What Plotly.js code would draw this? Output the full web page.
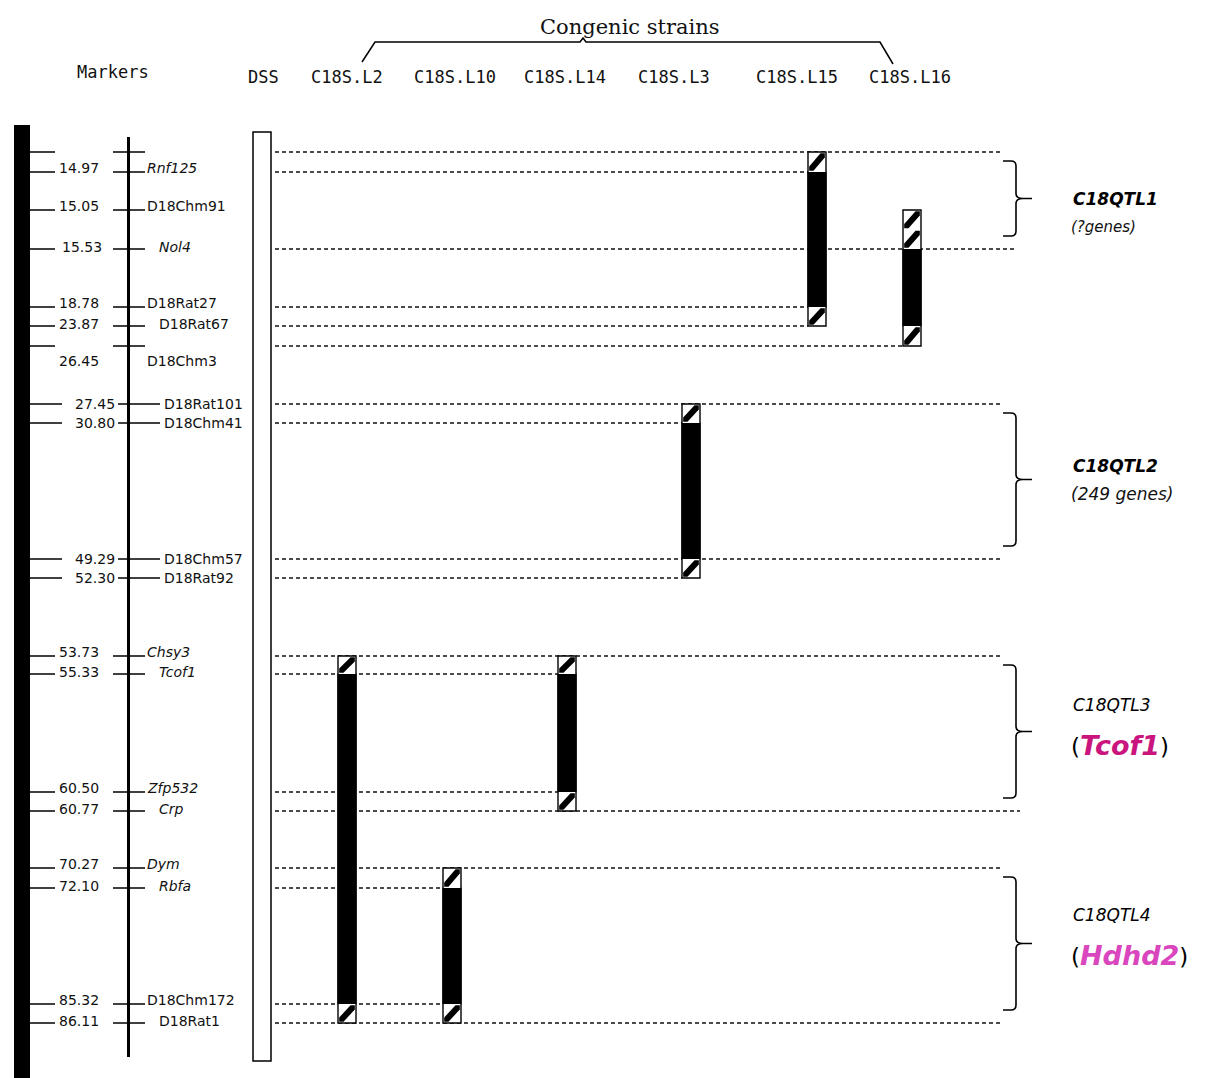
<!DOCTYPE html>
<html>
<head>
<meta charset="utf-8">
<script src="https://cdn.plot.ly/plotly-3.0.1.min.js"></script>
<style>
  html, body { margin: 0; padding: 0; background: #ffffff; }
  #chart { width: 1212px; height: 1078px; }
</style>
</head>
<body>
<div id="chart"></div>
<script>
// ---- Chromosome 18 markers (cM) ----
const markerNames = ['', 'Rnf125', 'D18Chm91', 'Nol4', 'D18Rat27', 'D18Rat67', 'D18Chm3',
  'D18Rat101', 'D18Chm41', 'D18Chm57', 'D18Rat92', 'Chsy3', 'Tcof1', 'Zfp532', 'Crp',
  'Dym', 'Rbfa', 'D18Chm172', 'D18Rat1'];
const markerCM = ['', '14.97', '15.05', '15.53', '18.78', '23.87', '26.45', '27.45', '30.80',
  '49.29', '52.30', '53.73', '55.33', '60.50', '60.77', '70.27', '72.10', '85.32', '86.11'];
const isGene = [false, true, false, true, false, false, false, false, false, false, false,
  true, true, true, true, true, true, false, false];
// row of each marker on the schematic map scale
const markerRow = [152, 172, 210, 249, 307, 326, 346, 404, 423, 559, 578, 656, 674, 792, 811,
  868, 888, 1004, 1023];

// ---- Strains ----
const strainLabels = ['DSS', 'C18S.L2', 'C18S.L10', 'C18S.L14', 'C18S.L3', 'C18S.L15', 'C18S.L16'];
// congenic segments given as marker indices
const congenic   = ['C18S.L2', 'C18S.L10', 'C18S.L14', 'C18S.L3', 'C18S.L15', 'C18S.L16'];
const flankStart = [11, 15, 11, 7, 0, 2];
const donorStart = [12, 16, 12, 8, 1, 3];
const donorEnd   = [17, 17, 13, 9, 4, 5];
const flankEnd   = [18, 18, 14, 10, 5, 6];

// ---- QTL intervals ----
const qtlNames = ['C18QTL1', 'C18QTL2', 'C18QTL3', 'C18QTL4'];
const qtlGenes = ['?genes', '249 genes', 'Tcof1', 'Hdhd2'];
const qtlFrom  = [0, 7, 11, 15];
const qtlTo    = [3, 9, 14, 18];

// ---- drawing layout ----
const headerX = [263, 347, 455, 565, 674, 797, 910];
const barX = [347, 452, 567, 691, 817, 912];
const BAR_HALF = 9;
const labelType = ['T', 'A', 'A', 'B', 'A', 'B', 'D', 'C', 'C', 'C', 'C', 'A', 'B', 'A', 'B', 'A', 'B', 'A', 'B'];
// right end of each dashed guide line (null = no guide)
const guideEnd = [1003, 808, null, 1015, 808, 808, 903, 1003, 682, 1003, 682, 1003, 558, 558, 1020,
  1003, 443, 443, 1003];
const qtlTitleY = [199, 466, 705, 915];
const qtlSubY = [227, 494, 745, 955];
const geneColor = ['#000000', '#000000', '#c9157d', '#d946bd'];

const shapes = [];
const ann = [];
const F = 'DejaVu Sans, Arial, sans-serif';
const MONO = 'DejaVu Sans Mono, monospace';

function rect(x0, y0, x1, y1, fill, lw) {
  shapes.push({ type: 'rect', xref: 'x', yref: 'y', x0, y0, x1, y1, fillcolor: fill,
    line: { width: lw, color: '#000' }, layer: 'above' });
}
function path(d, fill, lw) {
  shapes.push({ type: 'path', xref: 'x', yref: 'y', path: d, fillcolor: fill || 'rgba(0,0,0,0)',
    line: { width: lw, color: '#000' }, layer: 'above' });
}

// chromosome bar and marker axis
rect(14, 125, 30, 1078, '#000', 0);
rect(127, 137, 130, 1057, '#000', 0);
// DSS column
rect(253, 132, 271, 1061, '#ffffff', 1.5);

// marker ticks
const tx = [], ty = [];
markerRow.forEach((r, i) => {
  const t = labelType[i];
  if (t === 'C') {
    tx.push(30, 62, null, 118, 160, null);
  } else {
    tx.push(30, 55, null, 113, 145, null);
  }
  ty.push(r, r, null, r, r, null);
});

// dashed guides
const gx = [], gy = [];
markerRow.forEach((r, i) => {
  if (guideEnd[i] !== null) { gx.push(275, guideEnd[i], null); gy.push(r, r, null); }
});

// marker labels
markerRow.forEach((r, i) => {
  const t = labelType[i];
  if (t === 'T') return;
  let nx = 57, nAnchor = 'left', mx = 145, ys = 4, y = r;
  if (t === 'B') { nx = (i === 3) ? 60 : 57; mx = 157; ys = 2; }
  if (t === 'C') { nx = 95; nAnchor = 'center'; mx = 162; ys = 0; }
  if (t === 'D') { nx = 57; mx = 145; ys = 0; y = r + 15; }
  ann.push({ x: nx, y, xref: 'x', yref: 'y', text: markerCM[i], showarrow: false,
    xanchor: nAnchor, yanchor: 'middle', yshift: ys, font: { family: F, size: 14, color: '#111' } });
  ann.push({ x: mx, y, xref: 'x', yref: 'y', text: isGene[i] ? '<i>' + markerNames[i] + '</i>' : markerNames[i],
    showarrow: false, xanchor: 'left', yanchor: 'middle', yshift: ys, font: { family: F, size: 14, color: '#111' } });
});

// congenic segments: hatched flanks, solid donor region
function stripe(x0, y0, x1, y1) {
  const d = 5.5, e = 1.2;
  path(`M ${x0 + e},${y1 - d} L ${x1 - d},${y0 + e} L ${x1 - e},${y0 + e} L ${x1 - e},${y0 + d} ` +
       `L ${x0 + d},${y1 - e} L ${x0 + e},${y1 - e} Z`, '#000', 0);
}
function hatch(x0, y0, x1, y1) {
  rect(x0, y0, x1, y1, '#ffffff', 0);
  const n = Math.max(1, Math.round((y1 - y0) / 19.5));
  const h = (y1 - y0) / n;
  for (let k = 0; k < n; k++) stripe(x0, y0 + k * h, x1, y0 + (k + 1) * h);
}
congenic.forEach((s, i) => {
  const x0 = barX[i] - BAR_HALF, x1 = barX[i] + BAR_HALF;
  rect(x0, markerRow[donorStart[i]], x1, markerRow[donorEnd[i]], '#000', 1.2);
  hatch(x0, markerRow[flankStart[i]], x1, markerRow[donorStart[i]]);
  hatch(x0, markerRow[donorEnd[i]], x1, markerRow[flankEnd[i]]);
  rect(x0, markerRow[flankStart[i]], x1, markerRow[flankEnd[i]], 'rgba(0,0,0,0)', 1.4);
});

// QTL braces and names
qtlNames.forEach((q, i) => {
  const top = markerRow[qtlFrom[i]] + 9;
  const bot = markerRow[qtlTo[i]] - 13;
  const mid = (top + bot) / 2;
  const bx = 1016;
  path(`M 1003,${top} L 1011,${top} Q ${bx},${top} ${bx},${top + 5} L ${bx},${mid - 5} Q ${bx},${mid} ${bx + 7},${mid} L 1032,${mid} ` +
       `M ${bx + 7},${mid} Q ${bx},${mid} ${bx},${mid + 5} L ${bx},${bot - 5} Q ${bx},${bot} 1011,${bot} L 1003,${bot}`, null, 1.6);
  const bold = i < 2;
  ann.push({ x: 1071, y: qtlTitleY[i], xref: 'x', yref: 'y', showarrow: false, xanchor: 'left', yanchor: 'middle',
    text: bold ? '<b><i>' + q + '</i></b>' : '<i>' + q + '</i>', font: { family: F, size: 17, color: '#000' } });
  let sub;
  if (i < 2) {
    sub = '<i>(' + qtlGenes[i] + ')</i>';
    ann.push({ x: 1069, y: qtlSubY[i], xref: 'x', yref: 'y', showarrow: false, xanchor: 'left', yanchor: 'middle',
      text: sub, font: { family: F, size: i === 0 ? 15 : 17, color: '#111' } });
  } else {
    sub = '(<span style="font-size:27px;color:' + geneColor[i] + ';font-weight:bold;font-style:italic">' + qtlGenes[i] + '</span>)';
    ann.push({ x: 1069, y: qtlSubY[i], xref: 'x', yref: 'y', showarrow: false, xanchor: 'left', yanchor: 'middle',
      text: sub, font: { family: F, size: 23, color: '#000' } });
  }
});

// header
ann.push({ x: 113, y: 72, xref: 'x', yref: 'y', text: 'Markers', showarrow: false, xanchor: 'center', yanchor: 'middle',
  font: { family: MONO, size: 17, color: '#111' } });
strainLabels.forEach((s, i) => {
  ann.push({ x: headerX[i], y: 77, xref: 'x', yref: 'y', text: s, showarrow: false, xanchor: 'center', yanchor: 'middle',
    font: { family: MONO, size: 17, color: '#111' } });
});
ann.push({ x: 630, y: 27, xref: 'x', yref: 'y', text: 'Congenic strains', showarrow: false, xanchor: 'center', yanchor: 'middle',
  font: { family: 'DejaVu Serif, Liberation Serif, serif', size: 21, color: '#111' } });
path('M 362,62 L 375,42 L 580,42 L 583,38 L 586,42 L 880,42 L 893,64', null, 1.5);

const traces = [
  { x: gx, y: gy, mode: 'lines', type: 'scatter', hoverinfo: 'skip', showlegend: false,
    line: { color: '#111', width: 1.5, dash: '4px,3px' }, connectgaps: false },
  { x: tx, y: ty, mode: 'lines', type: 'scatter', hoverinfo: 'skip', showlegend: false,
    line: { color: '#000', width: 1.5 }, connectgaps: false }
];

const layout = {
  width: 1212, height: 1078,
  margin: { l: 0, r: 0, t: 0, b: 0 },
  paper_bgcolor: '#ffffff', plot_bgcolor: '#ffffff',
  xaxis: { range: [0, 1212], visible: false, fixedrange: true },
  yaxis: { range: [1078, 0], visible: false, fixedrange: true },
  shapes, annotations: ann, showlegend: false
};

Plotly.newPlot('chart', traces, layout, { staticPlot: true, displayModeBar: false });
</script>
</body>
</html>
